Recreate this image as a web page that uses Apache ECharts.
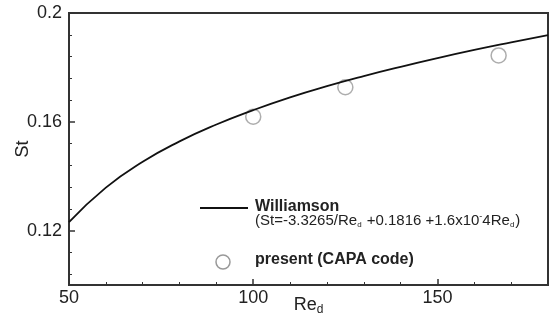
<!DOCTYPE html>
<html>
<head>
<meta charset="utf-8">
<script src="https://cdn.jsdelivr.net/npm/echarts@6/dist/echarts.min.js"></script>
<style>
  html, body { margin: 0; padding: 0; background: #fff; }
  #container { width: 550px; height: 323px; }
</style>
</head>
<body>
<div id="container"></div>
<script>
// Williamson curve
const reCurve = [50, 60, 70, 80, 90, 100, 110, 120, 130, 140, 150, 160, 170, 180]
const stCurve = [0.1231, 0.1358, 0.1453, 0.1528, 0.1590, 0.1643, 0.1690, 0.1731, 0.1768, 0.1802, 0.1834, 0.1864, 0.1892, 0.1919]

// present (CAPA code) points
const rePresent = [100, 125, 166.6]
const stPresent = [0.1619, 0.1727, 0.1844]

const xMajor = [50, 100, 150]
const xMinor = [60, 70, 80, 90, 110, 120, 130, 140, 160, 170]
const yMajor = [0.12, 0.16, 0.2]
const yMinor = [0.104, 0.112, 0.128, 0.136, 0.144, 0.152, 0.168, 0.176, 0.184, 0.192]

const FONT = '"Liberation Sans", Arial, sans-serif'
const AXIS_COLOR = '#333'

const myChart = echarts.init(document.getElementById('container'))

const minorAxis = (ticks) => ({
  type: 'value',
  show: true,
  axisLine: { show: false },
  axisLabel: { show: false },
  splitLine: { show: false },
  axisTick: {
    show: true,
    inside: true,
    length: 3,
    customValues: ticks,
    lineStyle: { color: AXIS_COLOR, width: 1 }
  }
})

myChart.setOption({
  animation: false,
  grid: {
    left: 69,
    top: 13,
    right: 2,
    bottom: 38,
    containLabel: false,
    outerBoundsMode: 'none',
    show: true,
    borderColor: AXIS_COLOR,
    borderWidth: 2,
    backgroundColor: '#fff'
  },
  xAxis: [
    {
      type: 'value',
      min: 50,
      max: 180,
      name: 'Re{sub|d}',
      nameLocation: 'middle',
      nameGap: 20,
      nameMoveOverlap: false,
      nameTextStyle: {
        fontFamily: FONT,
        fontSize: 18,
        color: '#222',
        verticalAlign: 'middle',
        rich: {
          sub: { fontFamily: FONT, fontSize: 12, color: '#222', padding: [10, 0, 0, 0] }
        }
      },
      axisLine: { show: true, lineStyle: { color: AXIS_COLOR, width: 2 } },
      splitLine: { show: false },
      axisTick: {
        show: true,
        inside: true,
        length: 6,
        customValues: xMajor,
        lineStyle: { color: AXIS_COLOR, width: 1.5 }
      },
      axisLabel: {
        customValues: xMajor,
        margin: 4,
        fontFamily: FONT,
        fontSize: 18,
        color: '#222'
      }
    },
    Object.assign(minorAxis(xMinor), { min: 50, max: 180, position: 'bottom' })
  ],
  yAxis: [
    {
      type: 'value',
      min: 0.1,
      max: 0.2,
      name: 'St',
      nameLocation: 'middle',
      nameGap: 46,
      nameMoveOverlap: false,
      nameTextStyle: { fontFamily: FONT, fontSize: 18, color: '#222', verticalAlign: 'middle' },
      axisLine: { show: true, lineStyle: { color: AXIS_COLOR, width: 2 } },
      splitLine: { show: false },
      axisTick: {
        show: true,
        inside: true,
        length: 6,
        customValues: yMajor,
        lineStyle: { color: AXIS_COLOR, width: 1.5 }
      },
      axisLabel: {
        customValues: yMajor,
        margin: 7,
        fontFamily: FONT,
        fontSize: 18,
        color: '#222',
        formatter: (v) => String(+v.toFixed(2))
      }
    },
    Object.assign(minorAxis(yMinor), { min: 0.1, max: 0.2, position: 'left' })
  ],
  graphic: [
    {
      type: 'line',
      shape: { x1: 200, y1: 208, x2: 248, y2: 208 },
      style: { stroke: '#111', lineWidth: 1.8 }
    },
    {
      type: 'text',
      left: 255,
      top: 199,
      style: { text: 'Williamson', font: 'bold 16px ' + FONT, fill: '#222' }
    },
    {
      type: 'text',
      left: 255,
      top: 212,
      style: {
        text: '(St=-3.3265/Re{sub|d} +0.1816 +1.6x10{sup|-}4Re{sub|d})',
        font: '15px ' + FONT,
        fill: '#222',
        rich: {
          sub: { fontSize: 8, fontFamily: FONT, fill: '#222', padding: [9, 1, 0, 0] },
          sup: { fontSize: 9, fontFamily: FONT, fill: '#222', padding: [0, 0, 8, 0] }
        }
      }
    },
    {
      type: 'circle',
      shape: { cx: 223, cy: 262, r: 7 },
      style: { fill: '#fff', stroke: '#999', lineWidth: 1.5 }
    },
    {
      type: 'text',
      left: 255,
      top: 252,
      style: { text: 'present (CAPA code)', font: 'bold 16px ' + FONT, fill: '#222' }
    }
  ],
  series: [
    {
      name: 'Williamson',
      type: 'line',
      smooth: true,
      symbol: 'none',
      lineStyle: { color: '#111', width: 1.8 },
      data: reCurve.map((x, i) => [x, stCurve[i]])
    },
    {
      name: 'present (CAPA code)',
      type: 'scatter',
      symbol: 'circle',
      symbolSize: 15,
      itemStyle: { color: '#fff', borderColor: '#999', borderWidth: 1.5 },
      data: rePresent.map((x, i) => [x, stPresent[i]])
    }
  ]
})
</script>
</body>
</html>
